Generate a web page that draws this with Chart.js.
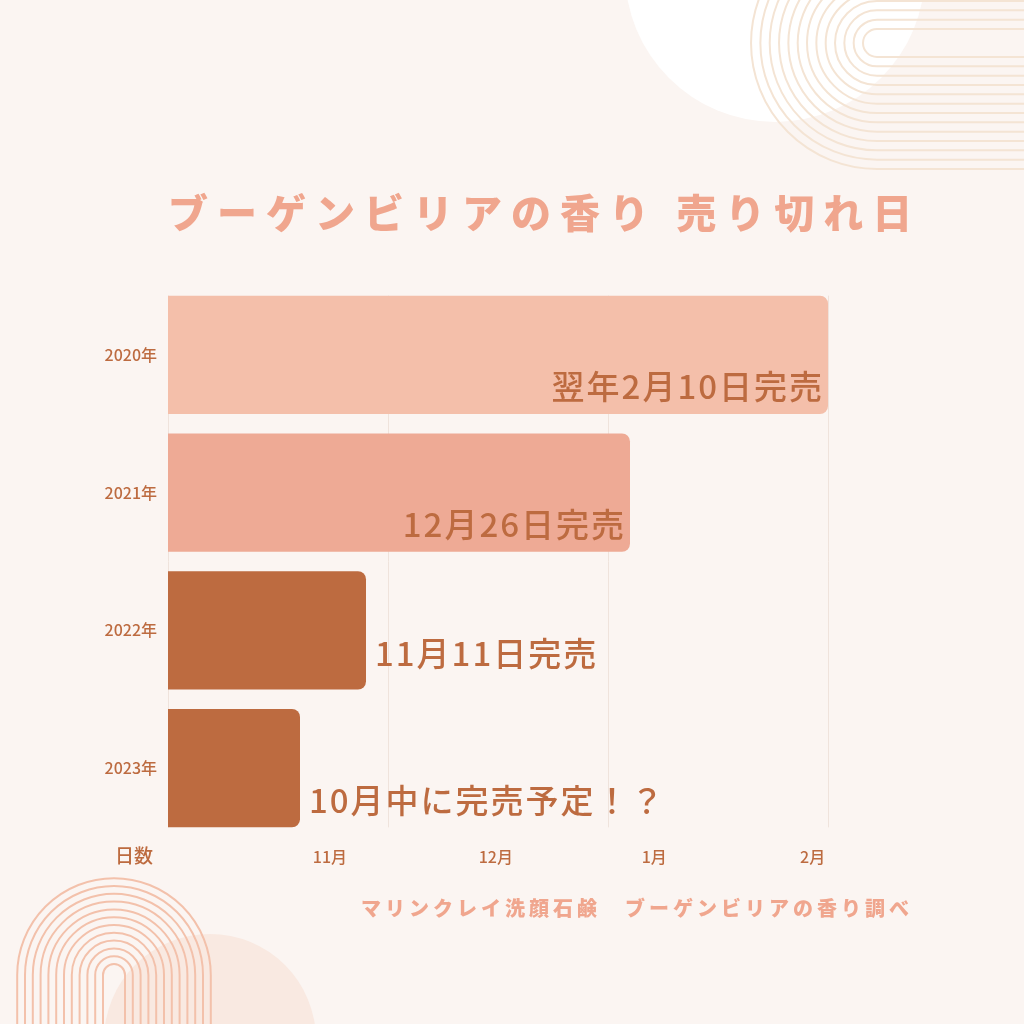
<!DOCTYPE html>
<html lang="ja">
<head>
<meta charset="utf-8">
<script src="https://cdn.jsdelivr.net/npm/chart.js@4"></script>
<style>
  body { margin: 0; background: #fbf5f2; }
  #wrap { position: relative; width: 1024px; height: 1024px; overflow: hidden; }
  #chart { position: absolute; left: 0; top: 0; }
  .txt { position: absolute; white-space: nowrap; font-family: "Noto Sans CJK JP", sans-serif; font-weight: 900; color: #f0a68e; }
  #title { left: 168px; top: 182px; font-size: 40px; letter-spacing: 9px; }
  #sub { left: 361px; top: 893px; font-size: 20px; letter-spacing: 4px; }
</style>
</head>
<body>
<div id="wrap">
  <canvas id="chart" width="1024" height="1024"></canvas>
  <div class="txt" id="title">ブーゲンビリアの香り 売り切れ日</div>
  <div class="txt" id="sub">マリンクレイ洗顔石鹸　ブーゲンビリアの香り調べ</div>
</div>
<script>
const years = ["2020年", "2021年", "2022年", "2023年"];
const soldOut = [3.0, 2.1, 0.9, 0.6];
const barColors = ["#f4bfaa", "#eeaa95", "#bd6b40", "#bd6b40"];
const soldOutText = ["翌年2月10日完売", "12月26日完売", "11月11日完売", "10月中に完売予定！？"];
const monthLabels = ["11月", "12月", "1月", "2月"];
const monthPos = [0.736, 1.49, 2.21, 2.93];
const gridValues = [0, 1, 2, 3];
const axisName = "日数";

const labelInside = [true, true, false, false];
const labelLift = [11, 11, 20, 10];

const ink = "#bd6b40";

const decor = {
  id: "decor",
  beforeDraw(chart) {
    const c = chart.ctx;
    c.save();
    c.fillStyle = "#fbf5f2";
    c.fillRect(0, 0, chart.width, chart.height);
    // white circle top right
    c.fillStyle = "#ffffff";
    c.beginPath();
    c.arc(775, -28, 150, 0, Math.PI * 2);
    c.fill();
    // pale circle bottom left
    c.fillStyle = "#f9e9e1";
    c.beginPath();
    c.arc(210, 1040, 106, 0, Math.PI * 2);
    c.fill();
    // arcs top right
    c.strokeStyle = "#f4e4d4";
    c.lineWidth = 2;
    for (let k = 0; k < 13; k++) {
      const r = 14 + k * 9.33;
      c.beginPath();
      c.moveTo(1030, 43 - r);
      c.lineTo(877, 43 - r);
      c.arc(877, 43, r, -Math.PI / 2, Math.PI / 2, true);
      c.lineTo(1030, 43 + r);
      c.stroke();
    }
    // arch bottom left
    c.strokeStyle = "#f3c1ab";
    c.lineWidth = 2;
    for (let k = 0; k < 12; k++) {
      const r = 11 + k * 7.8;
      c.beginPath();
      c.moveTo(114 - r, 1030);
      c.lineTo(114 - r, 975);
      c.arc(114, 975, r, Math.PI, 0);
      c.lineTo(114 + r, 1030);
      c.stroke();
    }
    c.restore();
  }
};

const gridLines = {
  id: "gridLines",
  beforeDatasetsDraw(chart) {
    const c = chart.ctx;
    const meta = chart.getDatasetMeta(0).data;
    const top = meta[0].y - meta[0].height / 2;
    const bottom = meta[meta.length - 1].y + meta[meta.length - 1].height / 2;
    const xs = chart.scales.x;
    c.save();
    c.strokeStyle = "#efe3dc";
    c.lineWidth = 1;
    gridValues.forEach(v => {
      const px = Math.round(xs.getPixelForValue(v)) + 0.5;
      c.beginPath();
      c.moveTo(px, top);
      c.lineTo(px, bottom);
      c.stroke();
    });
    c.restore();
  }
};

const barText = {
  id: "barText",
  afterDatasetsDraw(chart) {
    const c = chart.ctx;
    const meta = chart.getDatasetMeta(0);
    c.save();
    c.font = "500 33px 'Noto Sans CJK JP', sans-serif";
    c.letterSpacing = "2px";
    c.fillStyle = ink;
    c.textBaseline = "bottom";
    meta.data.forEach((bar, i) => {
      const bottom = bar.y + bar.height / 2;
      if (labelInside[i]) {
        c.textAlign = "right";
        c.fillText(soldOutText[i], bar.x - 4, bottom - labelLift[i]);
      } else {
        c.textAlign = "left";
        c.fillText(soldOutText[i], bar.x + 9, bottom - labelLift[i]);
      }
    });
    // axis name
    const area = chart.chartArea;
    c.letterSpacing = "0px";
    c.font = "500 19px 'Noto Sans CJK JP', sans-serif";
    c.textAlign = "center";
    c.textBaseline = "middle";
    c.fillText(axisName, area.left - 34, 856);
    c.restore();
  }
};

new Chart(document.getElementById("chart"), {
  type: "bar",
  data: {
    labels: years,
    datasets: [{
      data: soldOut,
      backgroundColor: barColors,
      borderRadius: 8,
      borderSkipped: "start",
      barPercentage: 0.86,
      categoryPercentage: 1,
      xAxisID: "x"
    }]
  },
  options: {
    indexAxis: "y",
    responsive: false,
    animation: false,
    layout: { padding: { top: 286, right: 196, bottom: 147, left: 0 } },
    plugins: { legend: { display: false }, tooltip: { enabled: false } },
    scales: {
      x: {
        type: "linear", min: 0, max: 3, position: "bottom",
        ticks: { display: false },
        grid: { display: false, drawTicks: false },
        border: { display: false },
        afterFit(s) { s.height = 0; }
      },
      x2: {
        type: "linear", min: 0, max: 3, position: "bottom",
        grid: { display: false, drawTicks: false },
        border: { display: false },
        afterBuildTicks(s) { s.ticks = monthPos.map(v => ({ value: v })); },
        ticks: {
          color: ink, padding: 10, maxRotation: 0, autoSkip: false,
          font: { family: "'Noto Sans CJK JP', sans-serif", size: 16, weight: "500" },
          callback(v, i) { return monthLabels[i]; }
        },
        afterFit(s) { s.height = 40; }
      },
      y: {
        grid: { display: false, drawTicks: false },
        border: { display: false },
        ticks: {
          color: ink, padding: 11,
          font: { family: "'Noto Sans CJK JP', sans-serif", size: 16, weight: "500" }
        },
        afterFit(s) { s.width = 168; }
      }
    }
  },
  plugins: [decor, gridLines, barText]
});
</script>
</body>
</html>
